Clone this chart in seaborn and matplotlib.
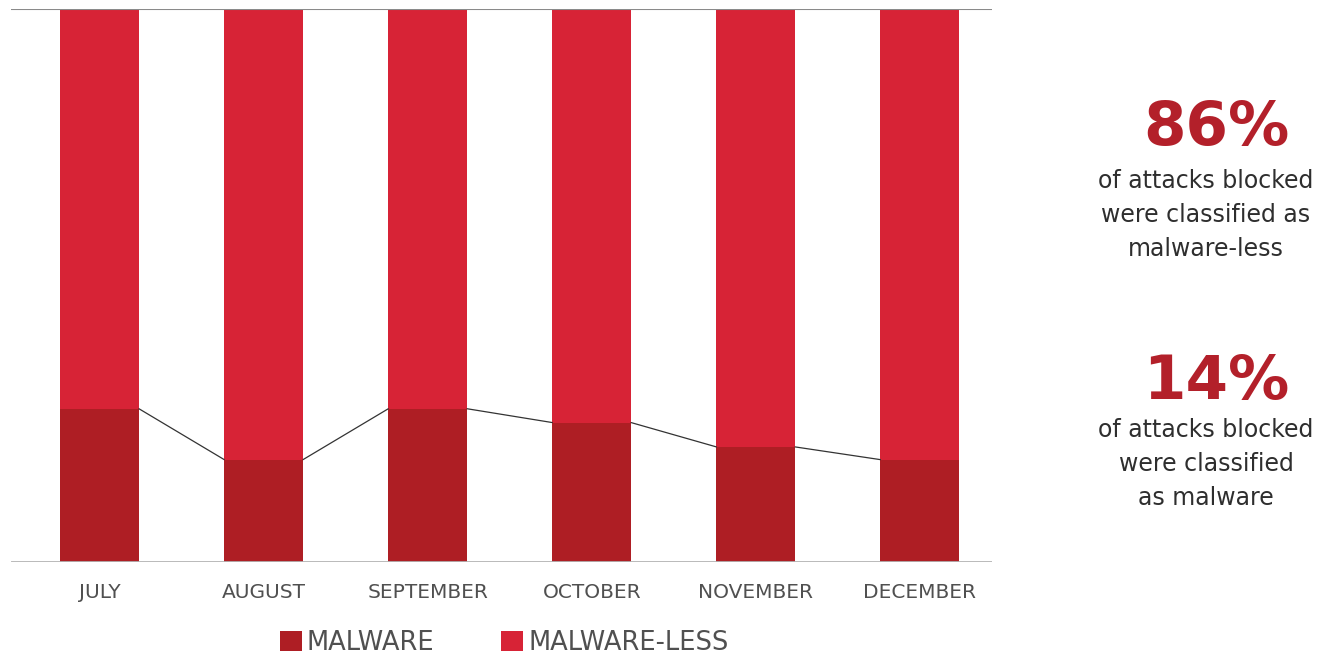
import matplotlib
matplotlib.use("Agg")
import matplotlib.pyplot as plt
from matplotlib.patches import Patch
import seaborn as sns
import pandas as pd

months = ["JULY", "AUGUST", "SEPTEMBER", "OCTOBER", "NOVEMBER", "DECEMBER"]
malware = [27.7, 18.5, 27.7, 25.2, 20.8, 18.5]
malware_less = [100 - m for m in malware]
legend_labels = ["MALWARE", "MALWARE-LESS"]
stat_big = ["86%", "14%"]
stat_text = ["of attacks blocked\nwere classified as\nmalware-less",
             "of attacks blocked\nwere classified\nas malware"]

C_MAL = "#AE1E24"
C_LESS = "#D72336"
C_STAT = "#B3202A"
C_TEXT = "#2e2e2e"
C_TICK = "#505050"

sns.set_theme(style="white")
plt.rcParams["font.family"] = ["DejaVu Sans"]

df = pd.DataFrame({"month": months, "malware": malware,
                   "total": [a + b for a, b in zip(malware, malware_less)]})

fig = plt.figure(figsize=(13.25, 6.58), dpi=100)
ax = fig.add_axes([11 / 1325, 1 - 562 / 658, (992 - 11) / 1325, (562 - 8.7) / 658])

sns.barplot(data=df, x="month", y="total", color=C_LESS, width=0.48,
            saturation=1, ax=ax, edgecolor="none", linewidth=0)
sns.barplot(data=df, x="month", y="malware", color=C_MAL, width=0.48,
            saturation=1, ax=ax, edgecolor="none", linewidth=0)

n = len(months)
mal_patches = ax.patches[n:2 * n]
for i in range(n - 1):
    p1, p2 = mal_patches[i], mal_patches[i + 1]
    ax.plot([p1.get_x() + p1.get_width(), p2.get_x()],
            [p1.get_height(), p2.get_height()],
            color="#333333", lw=0.9, zorder=3)

ax.set_xlim(-0.54, n - 1 + 0.44)
ax.set_ylim(0, 100)
ax.axhline(100, color="#8a8a8a", lw=1.5, zorder=4)
ax.axhline(0, color="#b3b3b3", lw=2, zorder=4)
for s in ax.spines.values():
    s.set_visible(False)
ax.set_yticks([])
ax.set_xlabel("")
ax.set_ylabel("")
ax.tick_params(axis="x", length=0, pad=15, labelsize=14.5, labelcolor=C_TICK)

handles = [Patch(facecolor=C_MAL, edgecolor="none"),
           Patch(facecolor=C_LESS, edgecolor="none")]
fig.legend(handles, legend_labels, loc="center", bbox_to_anchor=(504 / 1325, 1 - 643 / 658),
           ncol=2, frameon=False, handlelength=0.85, handleheight=0.85,
           handletextpad=0.2, columnspacing=2.6,
           prop={"size": 18.5}, labelcolor=C_TICK)

fig.text(1216 / 1325, 1 - 128 / 658, stat_big[0], ha="center", va="center",
         fontsize=44, fontweight="bold", color=C_STAT)
fig.text(1206 / 1325, 1 - 215 / 658, stat_text[0], ha="center", va="center",
         fontsize=17, color=C_TEXT, linespacing=1.55)
fig.text(1216 / 1325, 1 - 382 / 658, stat_big[1], ha="center", va="center",
         fontsize=44, fontweight="bold", color=C_STAT)
fig.text(1206 / 1325, 1 - 464 / 658, stat_text[1], ha="center", va="center",
         fontsize=17, color=C_TEXT, linespacing=1.55)

fig.savefig("out.png", dpi=100)
